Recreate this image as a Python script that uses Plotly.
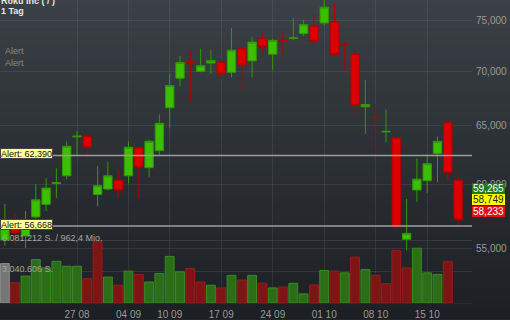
import math
import plotly.graph_objects as go

# ---------------- data ----------------
dates = [
    "2018-08-16", "2018-08-17", "2018-08-20", "2018-08-21", "2018-08-22", "2018-08-23", "2018-08-24",
    "2018-08-27", "2018-08-28", "2018-08-29", "2018-08-30", "2018-08-31",
    "2018-09-04", "2018-09-05", "2018-09-06", "2018-09-07",
    "2018-09-10", "2018-09-11", "2018-09-12", "2018-09-13", "2018-09-14",
    "2018-09-17", "2018-09-18", "2018-09-19", "2018-09-20", "2018-09-21",
    "2018-09-24", "2018-09-25", "2018-09-26", "2018-09-27", "2018-09-28",
    "2018-10-01", "2018-10-02", "2018-10-03", "2018-10-04", "2018-10-05",
    "2018-10-08", "2018-10-09", "2018-10-10", "2018-10-11", "2018-10-12",
    "2018-10-15", "2018-10-16", "2018-10-17", "2018-10-18",
]
opens = [55612, 56615, 55912, 57382, 58369, 60050, 60689, 64000, 64038, 59159,
         59606, 60332, 60689, 63038, 61366, 62810, 66586, 69328, 70900, 69981,
         70766, 70833, 69887, 72178, 70985, 73158, 71630, 73020, 73180, 73681,
         74408, 74748, 74849, 72550, 71630, 66676, 65740, 64430, 63891, 55657,
         59526, 60283, 62557, 65280, 60332]
highs = [58417, 57637, 57846, 60008, 60494, 61313, 63608, 64521, 64469, 61511,
         61842, 61148, 63608, 63098, 63745, 65986, 69728, 71464, 71946, 72178,
         72014, 71148, 74248, 72376, 73355, 73810, 73158, 73810, 75252, 75081,
         75587, 77100, 76713, 72922, 71949, 69168, 66882, 66431, 64038, 58810,
         62139, 62473, 64038, 65306, 60771]
lows = [55166, 55240, 54988, 57128, 57846, 58889, 60413, 62473, 62197, 58213,
        59478, 58889, 60065, 58810, 60551, 62473, 64756, 68585, 67179, 69887,
        69728, 69196, 69419, 68272, 69419, 71852, 70132, 71534, 73021, 73414,
        72600, 74478, 71410, 70038, 66078, 64262, 62532, 63523, 56410, 54818,
        58574, 59287, 60145, 60283, 56562]
closes = [56486, 56161, 56486, 58731, 59686, 60120, 63183, 64060, 63098, 59879,
          60689, 59526, 63098, 61424, 63608, 65192, 68640, 70833, 70780, 70510,
          71024, 69728, 72017, 70576, 72825, 72376, 72991, 72960, 73250, 74578,
          72922, 76373, 71630, 72510, 66819, 66882, 65700, 64480, 56615, 56108,
          60413, 61697, 63608, 60956, 57174]
volumes = [3849000, 1982000, 2627000, 4234000, 3426000, 4070000, 3589000, 3589000, 2367000, 5995000,
           2531000, 1732000, 3108000, 2790000, 2050000, 2887000, 4551000, 3041000, 3368000, 2050000,
           1732000, 1472000, 2694000, 2242000, 2694000, 1924000, 1472000, 1568000, 1924000, 895000,
           1761000, 3175000, 3108000, 2944000, 4484000, 3272000, 2694000, 1886000, 5100000, 3426000,
           5350000, 2944000, 2790000, 4070000, None]

price_ticks = [55000, 60000, 65000, 70000, 75000]
price_tick_labels = ["55,000", "60,000", "65,000", "70,000", "75,000"]
date_ticks = ["2018-08-27", "2018-09-04", "2018-09-10", "2018-09-17",
              "2018-09-24", "2018-10-01", "2018-10-08", "2018-10-15"]
date_tick_labels = ["27 08", "04 09", "10 09", "17 09", "24 09", "01 10", "08 10", "15 10"]
alert_levels = [62390, 56668]
alert_labels = ["Alert: 62,390", "Alert: 56,668"]
quote_levels = [59265, 58749, 58233]
quote_labels = ["59,265", "58,749", "58,233"]
volume_grid = [3040606, 6081212]
volume_grid_labels = ["3.040.606 S.", "6.081.212 S. / 962,4 Mio."]
title_lines = ["Roku Inc ( / )", "1 Tag"]

# ---------------- styling ----------------
FONT = "Liberation Sans, Arial, sans-serif"
W, H = 510, 320
ML, MR, MT, MB = 0, 38, 0, 13
PW, PH = W - ML - MR, H - MT - MB

UP_FILL, UP_LINE = "#3cbf00", "#2f9a00"
DN_FILL, DN_LINE = "#dc0000", "#b40000"

vol_colors, vol_lines = [], []
for i, v in enumerate(volumes):
    if i == 0:
        vol_colors.append("#767676"); vol_lines.append("#8a8a8a")
    elif closes[i] >= closes[i - 1]:
        vol_colors.append("#2c6e18"); vol_lines.append("#3a8a22")
    else:
        vol_colors.append("#7e1414"); vol_lines.append("#9a1c1c")

fig = go.Figure()

fig.add_trace(go.Bar(
    x=dates, y=volumes, yaxis="y2", width=0.86,
    marker=dict(color=vol_colors, line=dict(color=vol_lines, width=1)),
    hoverinfo="skip", showlegend=False,
))

fig.add_trace(go.Candlestick(
    x=dates, open=opens, high=highs, low=lows, close=closes,
    increasing=dict(fillcolor=UP_FILL, line=dict(color=UP_LINE, width=1)),
    decreasing=dict(fillcolor=DN_FILL, line=dict(color=DN_LINE, width=1)),
    whiskerwidth=0, showlegend=False,
))

# background gradient bands
shapes = []
top_c = (59, 65, 70)
bot_c = (28, 31, 35)
n = 40
y_lo = -MB / PH - 0.01
for k in range(n):
    f0 = k / n
    f1 = (k + 1) / n
    c = [round(top_c[j] + (bot_c[j] - top_c[j]) * (f0 + 0.5 / n)) for j in range(3)]
    y1 = 1.01 - f0 * (1.01 - y_lo)
    y0 = 1.01 - f1 * (1.01 - y_lo)
    shapes.append(dict(type="rect", xref="paper", yref="paper", x0=-0.01, x1=W / PW + 0.01,
                       y0=y0 - 0.002, y1=y1, fillcolor=f"rgb({c[0]},{c[1]},{c[2]})",
                       line=dict(width=0), layer="below"))

for lvl in alert_levels:
    shapes.append(dict(type="line", xref="paper", x0=0, x1=1, yref="y", y0=lvl, y1=lvl,
                       line=dict(color="#9c9c9c", width=1.5), layer="above"))

annotations = []
for lvl, txt in zip(alert_levels, alert_labels):
    annotations.append(dict(
        text=txt, xref="paper", x=0, xanchor="left", xshift=0,
        yref="y", y=math.log10(lvl), yanchor="middle", yshift=2,
        showarrow=False, font=dict(family=FONT, size=9, color="#111111"),
        bgcolor="#ffff99", bordercolor="#444444", borderwidth=1, borderpad=0, height=9,
    ))

quote_styles = [("#1e7a1e", "#ffffff"), ("#ffff00", "#222222"), ("#e01010", "#ffffff")]
for k, (lvl, txt) in enumerate(zip(quote_levels, quote_labels)):
    bg, fg = quote_styles[k]
    annotations.append(dict(
        text=txt, xref="paper", x=1, xanchor="left", xshift=0,
        yref="y", y=math.log10(quote_levels[1]), yanchor="middle", yshift=(1 - k) * 11.5,
        showarrow=False, font=dict(family=FONT, size=10, color=fg),
        bgcolor=bg, borderpad=0, borderwidth=0, width=33, height=10.5,
    ))

for v, txt in zip(volume_grid, volume_grid_labels):
    annotations.append(dict(
        text=txt, xref="paper", x=0, xanchor="left", xshift=0,
        yref="y2", y=v, yanchor="bottom", yshift=-4,
        showarrow=False, font=dict(family=FONT, size=9, color="#a4a4a4"),
    ))

for k, txt in enumerate(title_lines):
    annotations.append(dict(text=f"<b>{txt}</b>", xref="paper", x=0, xanchor="left", xshift=1,
                            yref="paper", y=1, yanchor="middle", yshift=-0.5 - 10 * k,
                            showarrow=False, borderpad=0, borderwidth=0, height=10,
                            font=dict(family=FONT, size=9, color="#e6e6e6")))
for ys in (-50.5, -62.5):
    annotations.append(dict(text="Alert", xref="paper", x=0, xanchor="left", xshift=3,
                            yref="paper", y=1, yanchor="middle", yshift=ys, showarrow=False,
                            font=dict(family=FONT, size=9, color="#8a8a8a")))

p_top = 77124
p_bot = 51029
v_top = 29570000

fig.update_layout(
    width=W, height=H,
    margin=dict(l=ML, r=MR, t=MT, b=MB, pad=0),
    paper_bgcolor="#2b2f33", plot_bgcolor="rgba(0,0,0,0)",
    font=dict(family=FONT, size=10, color="#9a9a9a"),
    boxgap=0.08, boxgroupgap=0.12,
    shapes=shapes, annotations=annotations,
    xaxis=dict(
        type="category", range=[-0.476, 45.35], rangeslider=dict(visible=False),
        tickmode="array", tickvals=date_ticks, ticktext=date_tick_labels,
        showgrid=True, gridcolor="rgba(255,255,255,0.07)", gridwidth=1,
        showline=True, linecolor="rgba(255,255,255,0.06)",
        ticks="", ticklabelstandoff=2, tickfont=dict(family=FONT, size=10, color="#9a9a9a"),
        fixedrange=True,
    ),
    yaxis=dict(
        type="log", side="right", range=[math.log10(p_bot), math.log10(p_top)],
        tickmode="array", tickvals=price_ticks, ticktext=price_tick_labels,
        showgrid=True, gridcolor="rgba(255,255,255,0.07)", gridwidth=1,
        zeroline=False, ticks="", ticklabelstandoff=3,
        tickfont=dict(family=FONT, size=10, color="#9a9a9a"),
    ),
    yaxis2=dict(
        overlaying="y", side="left", range=[0, v_top],
        tickmode="array", tickvals=volume_grid, showticklabels=False,
        showgrid=True, gridcolor="rgba(255,255,255,0.09)", gridwidth=1,
        zeroline=False,
    ),
    showlegend=False,
)

fig.write_html("out.html")
